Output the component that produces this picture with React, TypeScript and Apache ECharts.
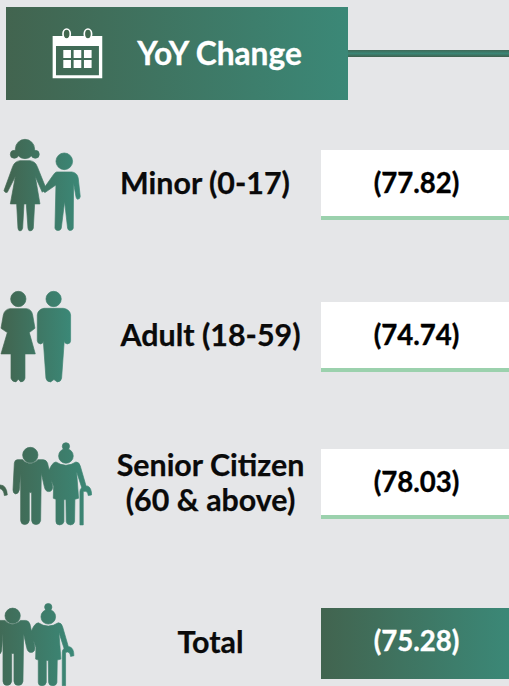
import React, { useEffect, useRef } from "react";
import * as echarts from "echarts";

const title = "YoY Change";
const categories = ["Minor (0-17)", "Adult (18-59)", "Senior Citizen\n(60 & above)", "Total"];
const values = [77.82, 74.74, 78.03, 75.28];

const FONT = "Lato, Carlito, 'Open Sans', sans-serif";
const DARK = "#42644F";
const LIGHT = "#3B8877";
const grad = { type: "linear", x: 0, y: 0, x2: 1, y2: 0, colorStops: [{ offset: 0, color: DARK }, { offset: 1, color: LIGHT }] };
const lineGrad = { type: "linear", x: 0, y: 0, x2: 0, y2: 1, colorStops: [{ offset: 0, color: "#3F6A58" }, { offset: 0.5, color: "#3B8575" }, { offset: 1, color: "#40604E" }] };

const circle = (cx: number, cy: number, r: number) => `M${cx - r} ${cy}a${r} ${r} 0 1 0 ${2 * r} 0a${r} ${r} 0 1 0 ${-2 * r} 0Z`;

const minorIcon =
  circle(75, 57, 29) + circle(43, 73, 12) + circle(106, 73, 12) +
  "M60 92L90 92Q106 94 112 110L136 170L127 187L106 140L120 222L104 222L100 295Q98 303 90 303Q85 303 84 295L79 222L72 222L68 295Q66 303 60 303Q55 303 54 295L50 222L31 222L46 140L22 187Q15 190 12 182L38 110Q44 94 60 92Z" +
  circle(193, 94, 25) +
  "M170 126L216 126Q232 128 235 145L241 200Q240 208 233 208Q229 207 228 200L221 160L220 295Q218 302 210 302Q205 302 203 295L194 215L184 295Q182 302 174 302Q167 302 165 295L168 165L135 188L127 182L160 135Q165 127 170 126Z";

const adultIcon =
  circle(55, 57, 23) +
  "M30 86L80 86Q95 88 98 105L105 145L88 158L106 222L75 222L75 295Q73 306 62 306L55 298L48 306Q36 306 33 295L33 222L3 222L22 158L3 145L10 105Q14 88 30 86Z" +
  circle(161, 57, 23) +
  "M132 85L190 85Q210 88 212 105L212 182Q212 192 202 192Q194 192 193 182L185 295Q183 306 172 306L162 299L152 306Q140 306 138 295L130 182Q130 192 122 192Q113 192 112 182L112 105Q114 88 132 85Z";

const seniorIcon =
  "M0 165Q20 165 22 195L13 197Q12 180 0 176Z" +
  circle(91, 75, 23) +
  "M52 89L68 89Q90 112 114 89L130 89Q140 90 143 100L158 170Q158 185 146 185Q136 185 133 170L124 130L122 272Q120 284 108 284Q96 284 95 272L95 188L88 188L88 272Q86 284 74 284Q63 284 62 272L62 130L58 180Q55 192 47 192Q39 190 39 180L43 100Q44 90 52 89Z" +
  circle(198, 78, 22) + circle(198, 49, 11) +
  "M168 96Q198 116 228 96Q238 96 241 108L259 170L247 178L230 125L236 205L225 208L224 275Q222 285 212 285Q200 285 199 275L198 209L192 209L192 275Q190 285 179 285Q168 285 168 275L168 208L160 205L161 170L152 145L146 125Q155 98 168 96Z" +
  "M240 285L240 185Q240 170 262 168Q275 172 275 195L265 197Q263 180 250 185L250 285Z";

const calendarBody =
  "M68 78L217 78L217 205L68 205ZM78 108L78 196L207 196L207 108Z" +
  [100, 131, 162].flatMap((x) => [120, 150].map((y) => `M${x} ${y}L${x + 23} ${y}L${x + 23} ${y + 24}L${x} ${y + 24}Z`)).join("");

echarts.graphic.registerShape("minorIcon", echarts.graphic.extendPath(minorIcon, {}));
echarts.graphic.registerShape("adultIcon", echarts.graphic.extendPath(adultIcon, {}));
echarts.graphic.registerShape("seniorIcon", echarts.graphic.extendPath(seniorIcon, {}));
echarts.graphic.registerShape("calendarBody", echarts.graphic.extendPath(calendarBody, {}));

const rowBoxes = [150, 302, 449];
const boxX = 321;
const boxW = 188;
const fmt = (v: number) => `(${v.toFixed(2)})`;
const iconStyle = { fill: grad, stroke: grad, lineWidth: 2 };

function buildGraphic() {
  const els: any[] = [
    { type: "rect", shape: { x: 6, y: 7, width: 342, height: 93 }, style: { fill: grad } },
    { type: "rect", shape: { x: 348, y: 50, width: 161, height: 7 }, style: { fill: lineGrad } },
    { type: "text", x: 219.5, y: 53, style: { text: title, font: `700 31.7px ${FONT}`, fill: "#fff", stroke: "#fff", lineWidth: 0.3, align: "center", verticalAlign: "middle" } },
    {
      type: "group", x: 30, y: 10, scaleX: 1 / 3, scaleY: 1 / 3,
      children: [
        { type: "calendarBody", style: { fill: "#fff" } },
        { type: "ellipse", shape: { cx: 110, cy: 72, rx: 11, ry: 15 }, style: { fill: "#42674F", stroke: "#fff", lineWidth: 5 } },
        { type: "ellipse", shape: { cx: 174, cy: 72, rx: 11, ry: 15 }, style: { fill: "#41694F", stroke: "#fff", lineWidth: 5 } },
      ],
    },
    { type: "minorIcon", x: 0, y: 130, scaleX: 1 / 3, scaleY: 1 / 3, style: iconStyle },
    { type: "adultIcon", x: 0, y: 280, scaleX: 1 / 3, scaleY: 1 / 3, style: iconStyle },
    { type: "seniorIcon", x: 0, y: 430, scaleX: 1 / 3, scaleY: 1 / 3, style: iconStyle },
    { type: "seniorIcon", x: -53 / 3, y: 590.8, scaleX: 1 / 3, scaleY: 1 / 3, style: iconStyle },
  ];
  const labelY = [182, 334, 481, 641];
  const labelX = [205, 210.5, 210.5, 210.5];
  categories.forEach((c, i) => {
    els.push({ type: "text", x: labelX[i], y: labelY[i], style: { text: c, font: `700 30.4px ${FONT}`, lineHeight: 35, fill: "#0a0a0a", stroke: "#0a0a0a", lineWidth: 0.25, align: "center", verticalAlign: "middle" } });
  });
  rowBoxes.forEach((y) => {
    els.push({ type: "rect", shape: { x: boxX, y, width: boxW, height: 66 }, style: { fill: "#fff" } });
    els.push({ type: "rect", shape: { x: boxX, y: y + 66, width: boxW, height: 4 }, style: { fill: "#9BD1AD" } });
  });
  els.push({ type: "rect", shape: { x: boxX, y: 608, width: boxW, height: 71 }, style: { fill: grad } });
  const valueY = [182, 334, 481, 640];
  values.forEach((v, i) => {
    const col = i === 3 ? "#fff" : "#000";
    els.push({ type: "text", x: 416.5, y: valueY[i], style: { text: fmt(v), font: `700 27.6px ${FONT}`, fill: col, stroke: col, lineWidth: 0.35, align: "center", verticalAlign: "middle" } });
  });
  return els;
}

export default function App() {
  const ref = useRef<HTMLDivElement>(null);
  useEffect(() => {
    const chart = echarts.init(ref.current!, undefined, { renderer: "svg" });
    chart.setOption({ animation: false, backgroundColor: "#E5E6E8", graphic: { elements: buildGraphic() } });
    return () => chart.dispose();
  }, []);
  return <div ref={ref} style={{ position: "fixed", left: 0, top: 0, width: 509, height: 686 }} />;
}
